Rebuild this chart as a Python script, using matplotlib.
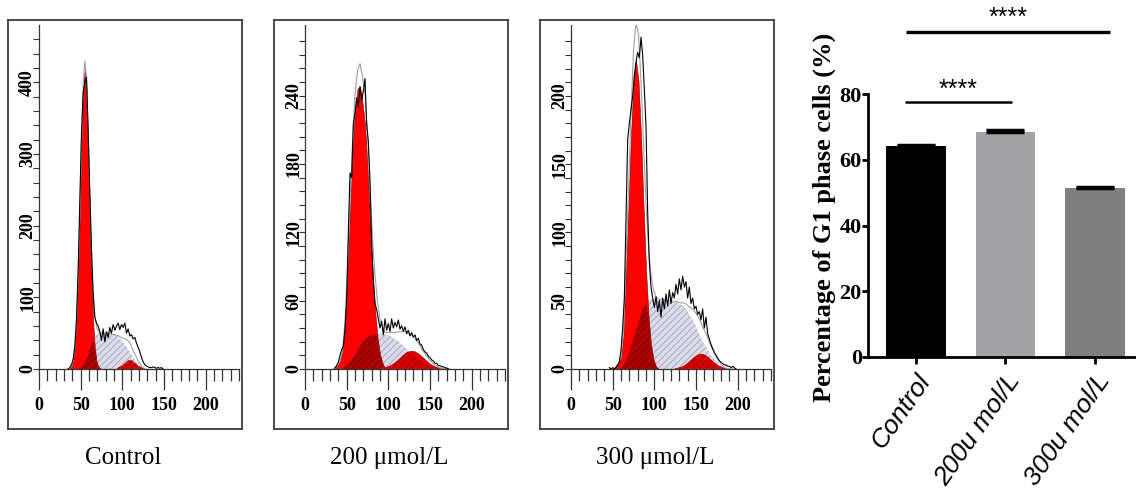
import numpy as np
import matplotlib.pyplot as plt

plt.rcParams["font.family"] = "Liberation Serif"
plt.rcParams["hatch.linewidth"] = 0.5

W, H = 1136, 490

# ---- DNA content histograms (fitted G1 / S / G2 + raw counts) ----
panel_names = ["Control", "200 μmol/L", "300 μmol/L"]

ctrl_fit_ch = np.arange(35, 131, 2)
ctrl_g1 = [0, 1, 4, 11, 29, 66, 129, 216, 313, 391, 421, 391, 313, 216, 129, 66, 29, 11, 4, 1,
           0, 0, 0, 0, 0, 0, 0, 0, 0, 0, 0, 0, 0, 0, 0, 0, 0, 0, 0, 0,
           0, 0, 0, 0, 0, 0, 0, 0]
ctrl_s = [0, 0, 0, 0, 0, 0, 0, 2, 3, 6, 9, 14, 20, 27, 35, 41, 46, 48, 49, 50,
          50, 50, 50, 50, 50, 50, 49, 48, 48, 46, 45, 42, 40, 37, 34, 31, 27, 24, 20, 16,
          13, 10, 7, 5, 2, 1, 0, 0]
ctrl_g2 = [0, 0, 0, 0, 0, 0, 0, 0, 0, 0, 0, 0, 0, 0, 0, 0, 0, 0, 0, 0,
           0, 0, 0, 0, 0, 0, 0, 0, 0, 0, 2, 3, 4, 6, 8, 10, 12, 12, 12, 10,
           8, 6, 4, 3, 2, 1, 0, 0]
ctrl_data_ch = np.arange(35, 150, 2)
ctrl_data = [0, 2, 6, 14, 32, 70, 140, 235, 330, 385,
             400, 407, 330, 245, 165, 105, 72, 64, 60, 52,
             40, 56, 38, 52, 44, 58, 50, 62, 54, 60,
             64, 55, 62, 58, 64, 50, 56, 46, 48, 42,
             44, 36, 30, 24, 16, 10, 6, 4, 3, 2,
             2, 3, 2, 1, 2, 1, 2, 0]

t200_fit_ch = np.arange(33, 175, 3)
t200_g1 = [0, 1, 3, 7, 16, 40, 85, 140, 190, 228, 246, 248, 234, 215, 178, 130, 85, 52, 28, 13,
           5, 1, 0, 0, 0, 0, 0, 0, 0, 0, 0, 0, 0, 0, 0, 0, 0, 0, 0, 0,
           0, 0, 0, 0, 0, 0, 0, 0]
t200_s = [0, 0, 0, 0, 0, 2, 4, 6, 9, 13, 16, 20, 23, 26, 28, 29, 30, 31, 31, 31,
          31, 30, 30, 29, 28, 26, 25, 23, 21, 19, 17, 15, 13, 11, 10, 8, 6, 5, 4, 3,
          2, 1, 1, 0, 0, 0, 0, 0]
t200_g2 = [0, 0, 0, 0, 0, 0, 0, 0, 0, 0, 0, 0, 0, 0, 0, 0, 0, 0, 0, 0,
           0.7, 1.1, 2, 3, 4.2, 5.8, 7.6, 9.6, 11.8, 13.6, 15, 15.8, 16, 15.4, 14.1, 12.4, 10.6, 8.4, 6.4, 4.6,
           3.3, 2.2, 1.4, 0.9, 0.6, 0.3, 0.2, 0.1]
t200_data_ch = np.arange(36, 173, 2)
t200_data = [1, 3, 6, 12, 17, 20, 35, 62, 120, 172,
             168, 215, 225, 238, 230, 248, 236, 244, 255, 215,
             200, 165, 110, 78, 58, 52, 44, 36, 42, 30,
             44, 34, 40, 33, 44, 36, 41, 37, 43, 35,
             38, 33, 37, 31, 34, 29, 32, 28, 30, 25,
             27, 22, 21, 17, 15, 14, 11, 10, 8, 7,
             5, 5, 3, 3, 2, 2, 1, 1, 0]

t300_fit_ch = np.arange(51, 199, 3)
t300_g1 = [0, 2, 4, 8, 25, 73, 120, 171, 211, 226, 211, 171, 120, 73, 39, 18, 7, 2, 0, 0,
           0, 0, 0, 0, 0, 0, 0, 0, 0, 0, 0, 0, 0, 0, 0, 0, 0, 0, 0, 0,
           0, 0, 0, 0, 0, 0, 0, 0, 0, 0]
t300_s = [0, 0, 0, 1, 3, 6, 11, 16, 22, 28, 34, 40, 45, 48, 50, 51, 51, 51, 51, 51,
          51, 50, 50, 50, 49, 49, 48, 47, 46, 44, 41, 38, 35, 31, 27, 23, 19, 16, 13, 10,
          8, 6, 4, 2, 1, 0, 0, 0, 0, 0]
t300_g2 = [0, 0, 0, 0, 0, 0, 0, 0, 0, 0, 0, 0, 0, 0, 0, 0, 0, 0, 0, 0,
           0, 0, 0, 0, 0, 0.5, 0.9, 1.5, 2.4, 3.6, 5.0, 6.7, 8.3, 9.7, 10.7, 11, 10.7, 9.7, 8.3, 6.7,
           5.0, 3.6, 2.4, 1.5, 0.9, 0.5, 0.3, 0.1, 0, 0]
t300_data_ch = np.arange(46, 199, 2)
t300_data = [1, 0, 1, 0, 1, 3, 5, 14, 30, 52,
             110, 168, 180, 190, 200, 215, 225, 232, 228, 243,
             230, 205, 178, 115, 78, 60, 52, 45, 53, 42,
             50, 38, 52, 44, 55, 46, 58, 48, 56, 52,
             62, 55, 66, 58, 68, 60, 64, 52, 60, 48,
             52, 44, 46, 40, 42, 36, 44, 30, 38, 26,
             22, 18, 15, 12, 10, 8, 6, 5, 4, 3,
             3, 2, 2, 1, 2, 1, 0]

# y axis of each histogram: top, label step, last label, minor step
hist_ytop = [480, 302, 252]
hist_ystep = [100, 60, 50]
hist_ylast = [400, 240, 200]
hist_yminor = [20, 12, 10]

# ---- G1 percentage bar chart ----
bar_groups = ["Control", "200u mol/L", "300u mol/L"]
bar_means = [64.3, 68.3, 51.3]
bar_errs = [0.3, 0.6, 0.5]
bar_colors = ["#000000", "#a3a2a7", "#7f7f7f"]
sig_pairs = [(0, 1), (0, 2)]
sig_text = ["****", "****"]


def px_rect(x0, y0, x1, y1):
    return [x0 / W, 1 - y1 / H, (x1 - x0) / W, (y1 - y0) / H]


def draw_hist(ax, fit_ch, g1, s, g2, data_ch, data):
    g1 = np.asarray(g1, float)
    s = np.asarray(s, float)
    g2 = np.asarray(g2, float)
    ax.fill_between(fit_ch, s, facecolor="#dadae8", edgecolor="#9a9ab6",
                    hatch="/////", linewidth=0, zorder=1)
    ax.fill_between(fit_ch, g1, facecolor="#ff0000", edgecolor="#7a0000",
                    linewidth=0.4, zorder=2)
    ax.fill_between(fit_ch, np.minimum(g1, s), facecolor="#b00000",
                    edgecolor="#600000", hatch="/////", linewidth=0, zorder=3)
    ax.fill_between(fit_ch, g2, facecolor="#e60000", edgecolor="#7a0000",
                    linewidth=0.4, zorder=2)
    ax.fill_between(fit_ch, np.minimum(g2, s), facecolor="#d40000",
                    edgecolor="#900000", hatch="/////", linewidth=0, zorder=3)
    ax.plot(fit_ch, g1 + s + g2, color="#a0a0a0", lw=0.8, zorder=4)
    ax.plot(data_ch, data, color="black", lw=0.8, zorder=5)


fig = plt.figure(figsize=(W / 100, H / 100), dpi=100)

hist_sets = [
    (ctrl_fit_ch, ctrl_g1, ctrl_s, ctrl_g2, ctrl_data_ch, ctrl_data),
    (t200_fit_ch, t200_g1, t200_s, t200_g2, t200_data_ch, t200_data),
    (t300_fit_ch, t300_g1, t300_s, t300_g2, t300_data_ch, t300_data),
]
frame_x = [(8, 242), (274, 508), (540, 774)]
axis_x0 = [39, 305, 571]

for i, hs in enumerate(hist_sets):
    fx0, fx1 = frame_x[i]
    frame = fig.add_axes(px_rect(fx0, 20, fx1, 429))
    frame.set_xticks([])
    frame.set_yticks([])
    for sp in frame.spines.values():
        sp.set_color("#3c3c3c")
        sp.set_linewidth(1.3)
    frame.patch.set_alpha(0)

    ax = fig.add_axes(px_rect(axis_x0[i], 25, axis_x0[i] + 200, 369))
    ax.patch.set_alpha(0)
    draw_hist(ax, *hs)
    ax.set_xlim(0, 240)
    ax.set_ylim(0, hist_ytop[i])
    ax.spines["top"].set_visible(False)
    ax.spines["right"].set_visible(False)
    for side in ("left", "bottom"):
        ax.spines[side].set_color("#333333")
        ax.spines[side].set_linewidth(0.9)
    ax.set_xticks(np.arange(0, 201, 50))
    ax.set_xticks(np.arange(0, 241, 10), minor=True)
    ax.tick_params(axis="x", which="major", length=15, width=0.9, pad=5,
                   labelsize=13, color="#333333")
    ax.tick_params(axis="x", which="minor", length=8.5, width=0.9, color="#333333")
    ax.set_yticks(np.arange(0, hist_ylast[i] + 1, hist_ystep[i]))
    ax.set_yticks(np.arange(0, hist_ytop[i] - 5, hist_yminor[i]), minor=True)
    ax.tick_params(axis="y", which="both", length=4, width=0.8, pad=-2,
                   labelsize=13, color="#333333")
    for lab in ax.get_xticklabels() + ax.get_yticklabels():
        lab.set_fontweight("bold")
    for lab in ax.get_yticklabels():
        lab.set_rotation(90)
        lab.set_va("center")

    fig.text(((fx0 + fx1) / 2 - 2) / W, 1 - 458 / H, panel_names[i],
             ha="center", va="center", fontsize=18)

# bar chart
bx = np.arange(len(bar_groups))
ax = fig.add_axes(px_rect(868, 94, 1136, 357))
ax.bar(bx, bar_means, width=0.67, color=bar_colors, zorder=2)
ax.errorbar(bx, bar_means, yerr=[np.zeros(len(bx)), bar_errs], fmt="none",
            ecolor="black", elinewidth=2, capsize=14, capthick=2.5, zorder=3)
ax.set_xlim(-0.536, 2.458)
ax.set_ylim(0, 80)
ax.spines["top"].set_visible(False)
ax.spines["right"].set_visible(False)
for side in ("left", "bottom"):
    ax.spines[side].set_linewidth(2)
ax.set_yticks(np.arange(0, 81, 20))
ax.tick_params(axis="y", length=4, width=2, pad=0.5, labelsize=16)
for lab in ax.get_yticklabels():
    lab.set_fontweight("bold")
ax.set_xticks(bx)
ax.set_xticklabels(bar_groups, rotation=55, ha="right", rotation_mode="anchor",
                   fontsize=19, family="Liberation Sans", style="italic")
ax.tick_params(axis="x", length=5, width=2, pad=4)
ax.set_ylabel("Percentage of G1 phase cells (%)", fontsize=19, fontweight="bold")
ax.yaxis.label.set_va("center")
ax.yaxis.set_label_coords((824 - 868) / 268, 0.53)

sig_y = [77.7, 98.9]
sig_ext = [(0.12, 0.07), (0.11, 0.17)]
sig_lw = [1.8, 2.4]
sig_dy = [1.5, 2.0]
for k, (a, b) in enumerate(sig_pairs):
    x0 = a - sig_ext[k][0]
    x1 = b + sig_ext[k][1]
    ax.plot([x0, x1], [sig_y[k], sig_y[k]], color="black", lw=sig_lw[k],
            solid_capstyle="butt", clip_on=False)
    ax.text((x0 + x1) / 2, sig_y[k] + sig_dy[k], sig_text[k], ha="center",
            va="baseline", fontsize=18, family="Liberation Sans", clip_on=False)

fig.savefig("out.png", dpi=100)
